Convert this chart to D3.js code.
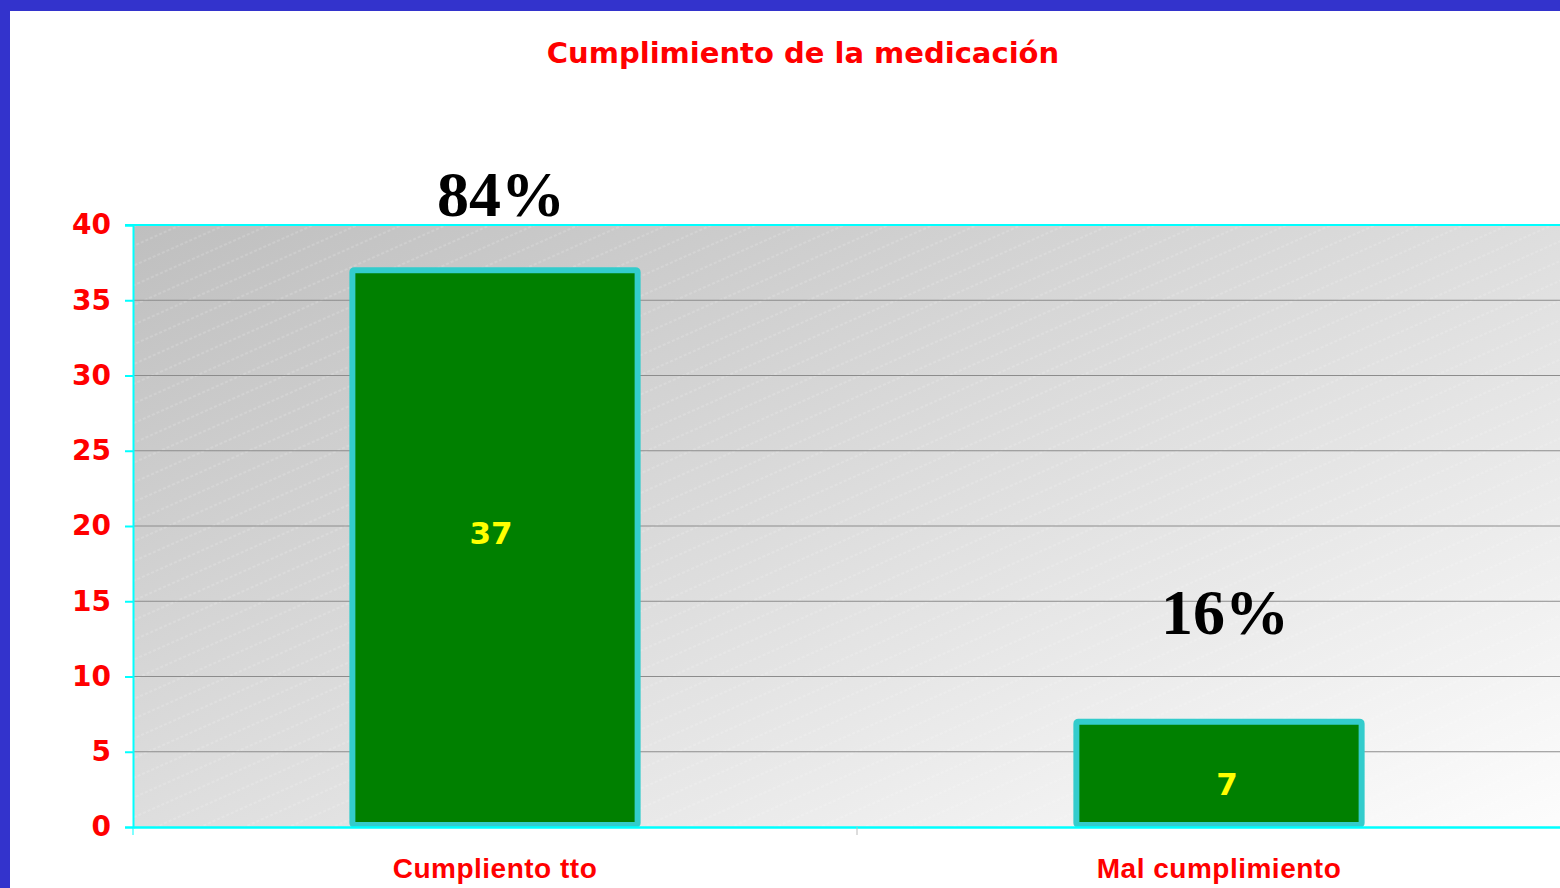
<!DOCTYPE html>
<html>
<head>
<meta charset="utf-8">
<script src="https://cdn.jsdelivr.net/npm/d3@7"></script>
<style>
  body { margin: 0; background: #fff; overflow: hidden; }
</style>
</head>
<body>
<div id="chart"></div>
<script>
// data
const categories = ["Cumpliento tto", "Mal cumplimiento"];
const counts = [37, 7];
const percentLabels = ["84%", "16%"];
const percentAt = [40.6, 12.8]; // value level where the % label sits
const yTicks = [0, 5, 10, 15, 20, 25, 30, 35, 40];

const W = 1560, H = 888;
const plot = { left: 133, top: 225, right: 1581, bottom: 827 };

const svg = d3.select("#chart").append("svg")
    .attr("width", W)
    .attr("height", H);

const defs = svg.append("defs");

const grad = defs.append("linearGradient")
    .attr("id", "bg")
    .attr("x1", 0).attr("y1", 0).attr("x2", 1).attr("y2", 1);
grad.append("stop").attr("offset", "0%").attr("stop-color", "#bfbfbf");
grad.append("stop").attr("offset", "100%").attr("stop-color", "#fdfdfd");

// faint diagonal dashed stripes
const pat = defs.append("pattern")
    .attr("id", "stripes")
    .attr("patternUnits", "userSpaceOnUse")
    .attr("width", 40).attr("height", 18)
    .attr("patternTransform", "rotate(-24)");
pat.append("line")
    .attr("x1", 0).attr("y1", 9).attr("x2", 40).attr("y2", 9)
    .attr("stroke", "#ffffff")
    .attr("stroke-opacity", 0.3)
    .attr("stroke-width", 1)
    .attr("stroke-dasharray", "3,2");

// scales
const x = d3.scaleBand()
    .domain(categories)
    .range([plot.left, plot.right])
    .padding(0);

const y = d3.scaleLinear()
    .domain([0, 40])
    .range([plot.bottom, plot.top]);

// plot background
svg.append("rect")
    .attr("x", plot.left).attr("y", plot.top)
    .attr("width", plot.right - plot.left)
    .attr("height", plot.bottom - plot.top)
    .attr("fill", "url(#bg)");
svg.append("rect")
    .attr("x", plot.left).attr("y", plot.top)
    .attr("width", plot.right - plot.left)
    .attr("height", plot.bottom - plot.top)
    .attr("fill", "url(#stripes)");

// gridlines
svg.append("g")
    .selectAll("line")
    .data(yTicks.filter(d => d > 0 && d < 40))
    .enter()
    .append("line")
    .attr("x1", plot.left).attr("x2", plot.right)
    .attr("y1", d => y(d)).attr("y2", d => y(d))
    .attr("stroke", "#8c8c8c")
    .attr("stroke-width", 1);

// top border of plot
svg.append("line")
    .attr("x1", plot.left - 8).attr("x2", plot.right)
    .attr("y1", y(40)).attr("y2", y(40))
    .attr("stroke", "#00ffff")
    .attr("stroke-width", 2);

// bars
const barW = x.bandwidth() * 0.394;
svg.append("g")
    .selectAll("rect")
    .data(counts)
    .enter()
    .append("rect")
    .attr("x", (d, i) => x(categories[i]) + x.bandwidth() / 2 - barW / 2)
    .attr("y", d => y(d))
    .attr("width", barW)
    .attr("height", d => y(0) - y(d) - 2)
    .attr("rx", 2)
    .attr("fill", "#008000")
    .attr("stroke", "#33cccc")
    .attr("stroke-width", 6);

// value labels inside bars
svg.append("g")
    .selectAll("text")
    .data(counts)
    .enter()
    .append("text")
    .attr("x", (d, i) => x(categories[i]) + x.bandwidth() / 2 + (d > 10 ? -4 : 8))
    .attr("y", d => y(d * 0.5) + (d > 10 ? -5 : 21))
    .attr("text-anchor", "middle")
    .attr("font-family", "DejaVu Sans")
    .attr("font-weight", "bold")
    .attr("font-size", 31)
    .attr("fill", "#ffff00")
    .text(d => d);

// percentage labels
svg.append("g")
    .selectAll("text")
    .data(percentLabels)
    .enter()
    .append("text")
    .attr("x", (d, i) => x(categories[i]) + x.bandwidth() / 2 + 6)
    .attr("y", (d, i) => y(percentAt[i]))
    .attr("text-anchor", "middle")
    .attr("font-family", "Liberation Serif")
    .attr("font-weight", "bold")
    .attr("font-size", 64)
    .attr("fill", "#000")
    .text(d => d);

// y axis
const yAxis = svg.append("g")
    .attr("transform", `translate(${plot.left},0)`)
    .call(d3.axisLeft(y).tickValues(yTicks).tickSize(8).tickPadding(14));
yAxis.select(".domain").attr("stroke", "#00ffff").attr("stroke-width", 2);
yAxis.selectAll(".tick line").attr("stroke", "#00ffff").attr("stroke-width", 2);
yAxis.selectAll(".tick text")
    .attr("fill", "#ff0000")
    .attr("font-family", "DejaVu Sans")
    .attr("font-weight", "bold")
    .attr("font-size", 28);

// x axis
const xAxis = svg.append("g")
    .attr("transform", `translate(0,${plot.bottom})`)
    .call(d3.axisBottom(x).tickSize(0).tickPadding(31));
xAxis.select(".domain").attr("stroke", "#00ffff").attr("stroke-width", 2.5);
xAxis.selectAll(".tick text")
    .attr("fill", "#ff0000")
    .attr("font-family", "Liberation Sans")
    .attr("font-weight", "bold")
    .attr("font-size", 28)
    .attr("letter-spacing", 0.5);

// category boundary ticks
svg.append("g")
    .selectAll("line")
    .data(categories)
    .enter()
    .append("line")
    .attr("x1", d => x(d)).attr("x2", d => x(d))
    .attr("y1", plot.bottom).attr("y2", plot.bottom + 8)
    .attr("stroke", (d, i) => i === 0 ? "#00ffff" : "#bbbbbb")
    .attr("stroke-width", 1);

// title
svg.append("text")
    .attr("x", 803)
    .attr("y", 63)
    .attr("text-anchor", "middle")
    .attr("font-family", "DejaVu Sans")
    .attr("font-weight", "bold")
    .attr("font-size", 29)
    .attr("fill", "#ff0000")
    .text("Cumplimiento de la medicación");

// blue frame
svg.append("rect").attr("x", 0).attr("y", 0).attr("width", W).attr("height", 11).attr("fill", "#3333cc");
svg.append("rect").attr("x", 0).attr("y", 0).attr("width", 10).attr("height", H).attr("fill", "#3333cc");
</script>
</body>
</html>
